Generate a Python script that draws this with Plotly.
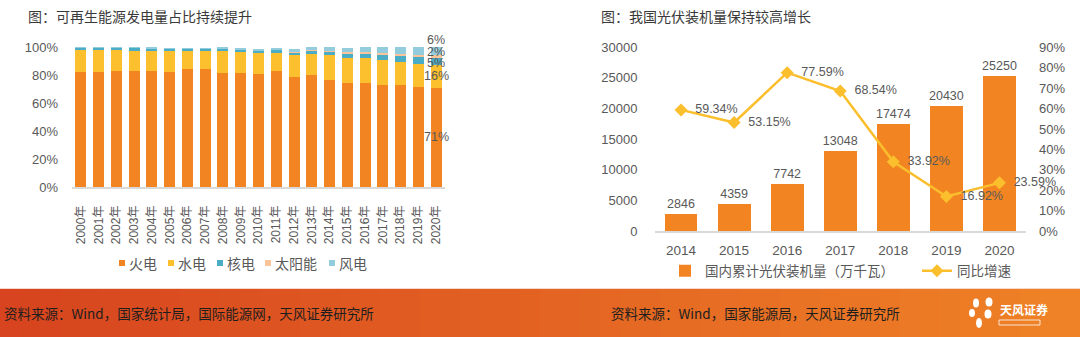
import plotly.graph_objects as go

# ---------------- data ----------------
years_left = ["2000年", "2001年", "2002年", "2003年", "2004年", "2005年", "2006年",
              "2007年", "2008年", "2009年", "2010年", "2011年", "2012年", "2013年",
              "2014年", "2015年", "2016年", "2017年", "2018年", "2019年", "2020年"]
thermal = [81.9, 81.8, 82.9, 83.2, 82.9, 81.9, 84.3, 84.3, 81.7, 81.7, 80.5,
           82.9, 78.3, 80.2, 76.7, 74.5, 74.0, 73.1, 73.1, 71.7, 71.0]
hydro = [16.4, 16.5, 15.0, 13.6, 14.0, 15.0, 12.8, 12.8, 15.4, 14.7, 15.0,
         13.0, 15.7, 15.0, 17.6, 17.9, 17.9, 17.6, 16.4, 16.4, 16.0]
nuclear = [1.2, 1.2, 1.5, 2.6, 2.3, 2.1, 1.9, 1.9, 1.9, 1.9, 1.8,
           2.0, 2.2, 2.2, 2.4, 3.1, 3.6, 4.1, 4.3, 5.0, 5.0]
solar = [0.0, 0.0, 0.0, 0.0, 0.0, 0.0, 0.0, 0.0, 0.0, 0.0, 0.0,
         0.1, 0.1, 0.2, 0.4, 0.6, 0.7, 1.1, 1.3, 1.5, 2.0]
wind = [0.1, 0.1, 0.1, 0.1, 0.1, 0.2, 0.1, 0.2, 0.3, 0.7, 1.2,
        1.5, 2.0, 2.4, 2.6, 3.3, 4.0, 4.2, 5.0, 5.4, 6.0]
left_names = ["火电", "水电", "核电", "太阳能", "风电"]
left_ticks = [0, 20, 40, 60, 80, 100]

years_right = ["2014", "2015", "2016", "2017", "2018", "2019", "2020"]
capacity = [2846, 4359, 7742, 13048, 17474, 20430, 25250]
growth = [59.34, 53.15, 77.59, 68.54, 33.92, 16.92, 23.59]
right_names = ["国内累计光伏装机量（万千瓦）", "同比增速"]

title_left = "图：可再生能源发电量占比持续提升"
title_right = "图：我国光伏装机量保持较高增长"
source_left = "资料来源：Wind，国家统计局，国际能源网，天风证券研究所"
source_right = "资料来源：Wind，国家能源局，天风证券研究所"

# ---------------- style ----------------
W, H = 1080, 337
C_FIRE = "#F28522"
C_HYDRO = "#FCBF2D"
C_NUC = "#4BACC6"
C_SOLAR = "#F9C49A"
C_WIND = "#93CDDD"
C_LINE = "#FBBF2D"
TXT = "#595959"
CJK = "Noto Sans CJK SC"
LAT = "Liberation Sans, Noto Sans CJK SC, sans-serif"
left_colors = [C_FIRE, C_HYDRO, C_NUC, C_SOLAR, C_WIND]


def fx(p):
    return p / W


def fy(p):
    return 1 - p / H


fig = go.Figure()

for name, vals, col in zip(left_names, [thermal, hydro, nuclear, solar, wind], left_colors):
    fig.add_trace(go.Bar(x=years_left, y=vals, name=name, marker_color=col,
                         marker_line_width=0, xaxis="x", yaxis="y",
                         showlegend=False, hoverinfo="skip"))

fig.add_trace(go.Bar(x=years_right, y=capacity, name=right_names[0],
                     marker_color=C_FIRE, marker_line_width=0,
                     xaxis="x2", yaxis="y2", legend="legend2",
                     text=[str(v) for v in capacity], textposition="outside",
                     constraintext="none",
                     textfont=dict(size=12.5, color=TXT, family=LAT),
                     cliponaxis=False))
fig.add_trace(go.Scatter(x=years_right, y=growth, name=right_names[1],
                         xaxis="x2", yaxis="y3", legend="legend3",
                         mode="lines+markers+text",
                         line=dict(color=C_LINE, width=2.5),
                         marker=dict(symbol="diamond", size=10, color=C_LINE),
                         text=["  " + f"{v:.2f}%" for v in growth],
                         textposition="middle right",
                         textfont=dict(size=12.5, color=TXT, family=LAT),
                         cliponaxis=False))

annotations = []
shapes = []

# labels on the 2020 bar
cum = 0
shifts = [0, 0, -1, 5, 11]
for vals, sh in zip([thermal, hydro, nuclear, solar, wind], shifts):
    v = vals[-1]
    annotations.append(dict(x=years_left[-1], y=cum + v / 2, xref="x", yref="y",
                            text=f"{round(v)}%", showarrow=False, yshift=sh,
                            font=dict(size=12.5, color=TXT, family=LAT)))
    cum += v

# compact legend for the left chart (square key + label)
legend_key_x = [119, 168, 217, 265, 329]
for name, col, kx in zip(left_names, left_colors, legend_key_x):
    shapes.append(dict(type="rect", xref="paper", yref="paper",
                       x0=fx(kx), x1=fx(kx + 6), y0=fy(266), y1=fy(260),
                       fillcolor=col, line_width=0))
    annotations.append(dict(x=fx(kx + 8), y=fy(263), xref="paper", yref="paper",
                            xanchor="left", yanchor="middle", text=name,
                            showarrow=False,
                            font=dict(size=14, color=TXT, family=CJK)))

annotations += [
    dict(x=fx(26), y=fy(16), xref="paper", yref="paper", xanchor="left",
         yanchor="middle", text=title_left, showarrow=False,
         font=dict(size=14, color="#3A3A3A", family=CJK)),
    dict(x=fx(599), y=fy(16), xref="paper", yref="paper", xanchor="left",
         yanchor="middle", text=title_right, showarrow=False,
         font=dict(size=14, color="#3A3A3A", family=CJK)),
    dict(x=fx(2), y=fy(313), xref="paper", yref="paper", xanchor="left",
         yanchor="middle", text=source_left, showarrow=False,
         font=dict(size=13.5, color="#1E1E1E", family=CJK)),
    dict(x=fx(609), y=fy(313), xref="paper", yref="paper", xanchor="left",
         yanchor="middle", text=source_right, showarrow=False,
         font=dict(size=13.5, color="#1E1E1E", family=CJK)),
    dict(x=fx(998), y=fy(309), xref="paper", yref="paper", xanchor="left",
         yanchor="middle", text="<b>天风证券</b>", showarrow=False,
         font=dict(size=12, color="white", family=CJK)),
]

# banner gradient (vertical strips)
c0 = (215, 68, 31)
c1 = (239, 130, 38)
n_strips = 54
for i in range(n_strips):
    t = i / (n_strips - 1)
    r, g, b = [round(a + (bb - a) * t) for a, bb in zip(c0, c1)]
    shapes.append(dict(type="rect", xref="paper", yref="paper",
                       x0=i / n_strips, x1=min(1.0, (i + 1) / n_strips + 0.001),
                       y0=0, y1=fy(289), fillcolor=f"rgb({r},{g},{b})",
                       line_width=0, layer="below"))
shapes.append(dict(type="line", xref="paper", yref="paper", x0=0, x1=1,
                   y0=fy(288.5), y1=fy(288.5),
                   line=dict(color="#F6D9CC", width=1), layer="below"))

# logo petals
for cx, cy, rx, ry in [(976, 303, 3, 4.5), (989, 302, 3.5, 4.5), (972, 313, 3, 4),
                       (988, 314, 3.5, 4.5), (979, 323, 3, 5)]:
    shapes.append(dict(type="circle", xref="paper", yref="paper",
                       x0=fx(cx - rx), x1=fx(cx + rx), y0=fy(cy + ry), y1=fy(cy - ry),
                       fillcolor="white", line_width=0))
shapes.append(dict(type="rect", xref="paper", yref="paper", x0=fx(999), x1=fx(1040),
                   y0=fy(325), y1=fy(320), fillcolor="rgba(255,255,255,0)",
                   line=dict(color="white", width=0.8)))

axis_common = dict(showgrid=False, zeroline=False, ticks="",
                   tickfont=dict(size=13, color=TXT, family=LAT))
legend_common = dict(orientation="h", xanchor="left", yanchor="middle",
                     traceorder="normal", itemwidth=30,
                     bgcolor="rgba(0,0,0,0)",
                     font=dict(size=13.5, color=TXT, family=CJK))

fig.update_layout(
    width=W, height=H, margin=dict(l=0, r=0, t=0, b=0, autoexpand=False),
    paper_bgcolor="white", plot_bgcolor="rgba(0,0,0,0)",
    barmode="stack", bargap=0.38,
    font=dict(family=LAT, color=TXT, size=13),
    showlegend=True,
    xaxis=dict(domain=[fx(72), fx(445)], anchor="y", type="category",
               range=[-0.5, len(years_left) - 0.5], tickangle=-90,
               showline=True, linecolor="#D9D9D9", linewidth=1.5,
               showgrid=False, ticks="", ticklabelstandoff=12,
               tickfont=dict(size=12, color=TXT, family=LAT)),
    yaxis=dict(domain=[fy(187), fy(47)], anchor="x", range=[0, 100],
               tickvals=left_ticks, ticktext=[f"{t}%" for t in left_ticks],
               ticklabelstandoff=13, showline=False, **axis_common),
    xaxis2=dict(domain=[fx(654.5), fx(1026)], anchor="y2", type="category",
                range=[-0.5, len(years_right) - 0.5],
                showline=True, linecolor="#D9D9D9", linewidth=1.5,
                showgrid=False, ticks="", ticklabelstandoff=6,
                tickfont=dict(size=13.5, color=TXT, family=LAT)),
    yaxis2=dict(domain=[fy(231), fy(47.3)], anchor="x2", range=[0, 30000],
                dtick=5000, tickformat="d", ticklabelstandoff=16,
                showline=False, **axis_common),
    yaxis3=dict(overlaying="y2", anchor="x2", side="right", range=[0, 90],
                dtick=10, ticksuffix="%", ticklabelstandoff=12, showline=False,
                **axis_common),
    legend2=dict(x=fx(665), y=fy(271), **legend_common),
    legend3=dict(x=fx(917), y=fy(271), **legend_common),
    annotations=annotations,
    shapes=shapes,
)

fig.write_html("out.html")
